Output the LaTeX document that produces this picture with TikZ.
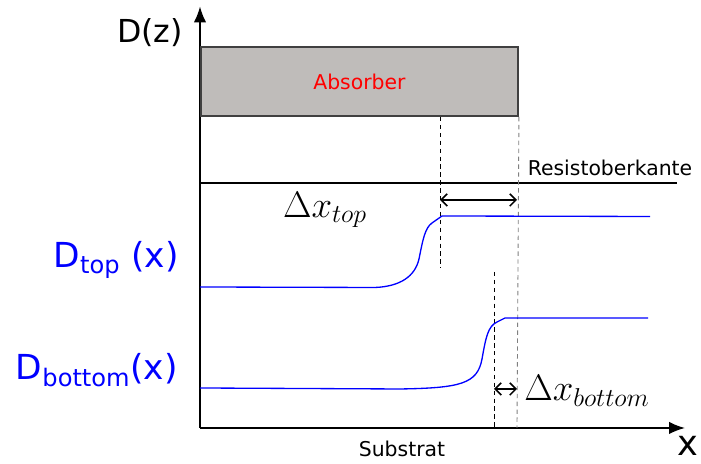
\documentclass[tikz,border=0pt]{standalone}
\usepackage{fix-cm}
\usepackage{fontspec}
\setmainfont{DejaVu Sans}
\usetikzlibrary{arrows.meta,positioning,calc}
\definecolor{absgray}{RGB}{191,188,186}
\definecolor{absedge}{RGB}{64,64,64}

\begin{document}
\begin{tikzpicture}[
  axis/.style={line width=0.9pt,-{Latex[length=9pt,width=7pt]}},
  curve/.style={blue,line width=0.75pt},
  guide/.style={dash pattern=on 2.5pt off 2pt,line width=0.5pt},
  guidegray/.style={guide,gray},
  delta/.style={line width=0.9pt,{Straight Barb[length=3.5pt,width=7pt]}-{Straight Barb[length=3.5pt,width=7pt]}},
  lbl/.style={font=\fontsize{11.6}{13}\selectfont},
  mlbl/.style={font=\fontsize{21}{24}\selectfont},
  dlbl/.style={blue,anchor=east,font=\fontsize{19.6}{24}\selectfont},
]
\useasboundingbox (0,0) rectangle (14.02,9.28);

% axes
\coordinate (o) at (4.0,0.72);
\coordinate (ytip) at (4.0,9.15);
\coordinate (xtip) at (13.7,0.72);
\draw[axis] (o) -- (ytip);
\draw[axis] (o) -- (xtip);
\node[font=\fontsize{18}{20}\selectfont] (dz) at (3.0,8.62) {D(z)};
\node[font=\fontsize{20}{22}\selectfont,inner sep=0pt] (xl) at (13.76,0.36) {x};
\node[lbl] (sub) at (8.04,0.30) {Substrat};

% absorber
\node[rectangle,draw=absedge,line width=1.1pt,fill=absgray,inner sep=0pt,
      minimum width=6.34cm,minimum height=1.38cm,anchor=south west] (abs) at (4.0,6.94) {};
\node[lbl,red] (abstext) at (abs.center) {Absorber};

% resist edge
\coordinate (r0) at (4.0,5.62);
\coordinate (r1) at (13.54,5.62);
\draw[line width=0.7pt] (r0) -- (r1);
\node[lbl] (rk) at (12.2,5.92) {Resistoberkante};

% guide lines
\coordinate (gt) at (8.8,3.92);
\coordinate (ge) at (10.34,0.72);
\coordinate (gb0) at (9.88,3.84);
\coordinate (gb1) at (9.88,0.72);
\draw[guide] (gt |- abs.south) -- (gt);
\draw[guidegray] (abs.south east) -- (ge);
\draw[guide] (gb0) -- (gb1);

% offsets
\coordinate (dt) at (8.8,5.28);
\coordinate (db) at (9.88,1.5);
\draw[delta] (dt) -- (dt -| ge);
\draw[delta] (db) -- (db -| ge);
\node[mlbl] (dxt) at (6.5,5.08) {$\Delta x_{top}$};
\node[mlbl] (dxb) at (11.74,1.46) {$\Delta x_{bottom}$};

% dose profiles
\draw[curve] (4.0,3.54) -- (7.5,3.53) .. controls (8.0,3.55) and (8.3,3.75) .. (8.38,4.1)
  .. controls (8.46,4.5) and (8.5,4.72) .. (8.64,4.82) -- (8.84,4.96) -- (13.0,4.95);
\draw[curve] (4.0,1.52) -- (8.0,1.50) .. controls (9.2,1.52) and (9.55,1.6) .. (9.64,2.1)
  .. controls (9.72,2.55) and (9.76,2.75) .. (9.94,2.84) -- (10.1,2.92) -- (12.96,2.92);
\node[dlbl] (dtop) at (3.7,4.08) {D\textsubscript{top} (x)};
\node[dlbl] (dbot) at (3.68,1.88) {D\textsubscript{bottom}(x)};
\end{tikzpicture}
\end{document}
